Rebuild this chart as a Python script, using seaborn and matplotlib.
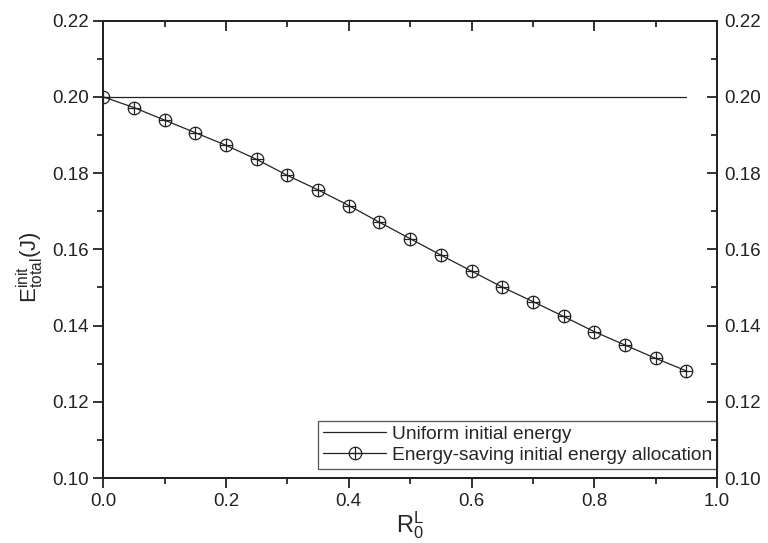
import numpy as np
import matplotlib
matplotlib.use('Agg')
import matplotlib.pyplot as plt
from matplotlib.path import Path
import seaborn as sns
import pandas as pd

# data
ratio = [0.0, 0.05, 0.1, 0.15, 0.2, 0.25, 0.3, 0.35, 0.4, 0.45,
         0.5, 0.55, 0.6, 0.65, 0.7, 0.75, 0.8, 0.85, 0.9, 0.95]
energy_saving = [0.2000, 0.1972, 0.1939, 0.1906, 0.1873, 0.1836, 0.1794, 0.1756, 0.1715, 0.1671,
                 0.1628, 0.1585, 0.1543, 0.1501, 0.1463, 0.1424, 0.1384, 0.1349, 0.1314, 0.1281]
uniform_x = [0.0, 0.95]
uniform_y = [0.20, 0.20]

x_major = [0.0, 0.2, 0.4, 0.6, 0.8, 1.0]
x_minor = [0.1, 0.3, 0.5, 0.7, 0.9]
y_major = [0.10, 0.12, 0.14, 0.16, 0.18, 0.20, 0.22]
y_minor = [0.11, 0.13, 0.15, 0.17, 0.19, 0.21]

sns.set_style('ticks')
plt.rcParams['font.family'] = ['Liberation Sans', 'DejaVu Sans']
plt.rcParams['mathtext.fontset'] = 'custom'
plt.rcParams['mathtext.rm'] = 'Liberation Sans'
plt.rcParams['mathtext.it'] = 'Liberation Sans'

INK = '#222222'
TICK_FS = 13.5

# circle with a plus inside
circ = Path.unit_circle()
cross = Path([(-1, 0), (1, 0), (0, -1), (0, 1)],
             [Path.MOVETO, Path.LINETO, Path.MOVETO, Path.LINETO])
oplus = Path.make_compound_path(circ, cross)

df_u = pd.DataFrame({'x': uniform_x, 'y': uniform_y})
df_e = pd.DataFrame({'x': ratio, 'y': energy_saving})

fig = plt.figure(figsize=(7.68, 5.43), dpi=100)
ax = fig.add_axes([0.1345, 0.1197, 0.7991, 0.8422])

sns.lineplot(data=df_u, x='x', y='y', ax=ax, color=INK, linewidth=0.9,
             label='Uniform initial energy')
sns.lineplot(data=df_e, x='x', y='y', ax=ax, color=INK, linewidth=0.9,
             marker=oplus, markersize=9, markerfacecolor='none',
             markeredgecolor=INK, markeredgewidth=0.9,
             label='Energy-saving initial energy allocation')

ax.set_xlim(0.0, 1.0)
ax.set_ylim(0.10, 0.22)
ax.set_xticks(x_major)
ax.set_xticks(x_minor, minor=True)
ax.set_yticks(y_major)
ax.set_yticks(y_minor, minor=True)
ax.set_xticklabels([f'{v:.1f}' for v in x_major])
ax.set_yticklabels([f'{v:.2f}' for v in y_major])

for s in ax.spines.values():
    s.set_visible(True)
    s.set_linewidth(1.3)
    s.set_color(INK)

ax.tick_params(axis='both', which='major', length=7, width=1.3, labelsize=TICK_FS,
               colors=INK, direction='out', top=False, right=False)
ax.tick_params(axis='both', which='minor', length=4, width=1.3, direction='out',
               top=False, right=False)

# right axis: inward ticks with labels
axr = ax.twinx()
axr.set_ylim(ax.get_ylim())
axr.set_yticks(y_major)
axr.set_yticks(y_minor, minor=True)
axr.set_yticklabels([f'{v:.2f}' for v in y_major])
axr.tick_params(axis='y', which='major', direction='in', length=7, width=1.3,
                labelsize=TICK_FS, colors=INK, pad=5)
axr.tick_params(axis='y', which='minor', direction='in', length=4, width=1.3)

# top axis: inward ticks, no labels
axt = ax.twiny()
axt.set_xlim(ax.get_xlim())
axt.set_xticks(x_major)
axt.set_xticks(x_minor, minor=True)
axt.tick_params(axis='x', which='major', direction='in', length=7, width=1.3,
                labeltop=False, colors=INK)
axt.tick_params(axis='x', which='minor', direction='in', length=4, width=1.3)
for a in (axr, axt):
    for s in a.spines.values():
        s.set_linewidth(1.3)
        s.set_color(INK)

ax.set_xlabel(r'$\mathregular{R_0^L}$', fontsize=17, labelpad=0)
ax.set_ylabel(r'$\mathregular{E_{total}^{init}}$(J)', fontsize=16)
ax.yaxis.set_label_coords(-0.093, 0.462)

leg = ax.legend(loc='lower right', bbox_to_anchor=(1.0, 0.02), fontsize=13.8,
                frameon=True, fancybox=False, framealpha=1, edgecolor='#555555',
                borderpad=0.25, handlelength=3.3, handletextpad=0.3, labelspacing=0.2,
                borderaxespad=0)
leg.get_frame().set_linewidth(0.9)
leg.set_zorder(10)

fig.savefig('out.png', dpi=100)
